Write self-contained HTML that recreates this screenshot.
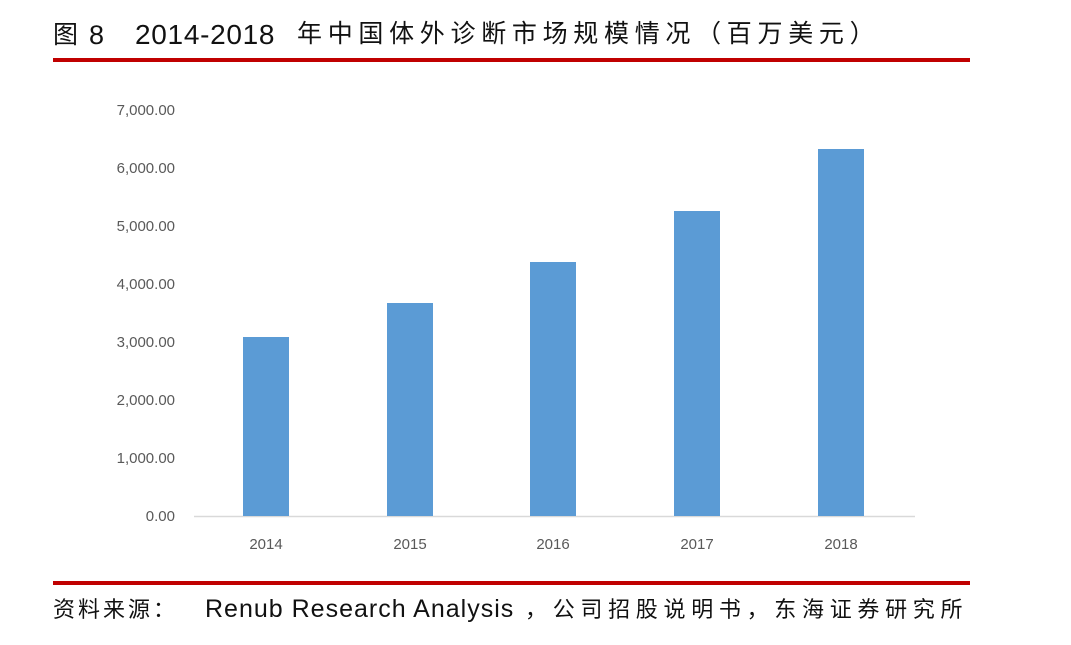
<!DOCTYPE html>
<html><head><meta charset="utf-8"><style>
body{margin:0;width:1071px;height:645px;background:#fff;position:relative;overflow:hidden;font-family:"Liberation Sans","Noto Sans CJK SC",sans-serif}
.t{position:absolute;white-space:nowrap;color:#111;line-height:1}
</style></head><body>
<div class="t" style="left:53px;top:23px;font-size:25px">图</div>
<div class="t" style="left:89px;top:22px;font-size:27px">8</div>
<div class="t" style="left:135px;top:21px;font-size:28px;letter-spacing:0.7px">2014-2018</div>
<div class="t" style="left:297px;top:22px;font-size:25px;letter-spacing:5.7px">年中国体外诊断市场规模情况（百万美元）</div>
<div style="position:absolute;left:53px;top:58px;width:917px;height:4px;background:#c00000"></div>
<svg width="1071" height="645" style="position:absolute;left:0;top:0" font-family="Liberation Sans, sans-serif">
<g fill="#595959" font-size="15" text-anchor="end">
<text x="175" y="521">0.00</text>
<text x="175" y="463">1,000.00</text>
<text x="175" y="405">2,000.00</text>
<text x="175" y="347">3,000.00</text>
<text x="175" y="289">4,000.00</text>
<text x="175" y="231">5,000.00</text>
<text x="175" y="173">6,000.00</text>
<text x="175" y="115">7,000.00</text>
</g>
<line x1="194" y1="516.5" x2="915" y2="516.5" stroke="#d9d9d9" stroke-width="1.5"/>
<g fill="#5b9bd5">
<rect x="243" y="337" width="46" height="179"/>
<rect x="387" y="303" width="46" height="213"/>
<rect x="530" y="262" width="46" height="254"/>
<rect x="674" y="211" width="46" height="305"/>
<rect x="818" y="149" width="46" height="367"/>
</g>
<g fill="#595959" font-size="15" text-anchor="middle">
<text x="266" y="549">2014</text>
<text x="410" y="549">2015</text>
<text x="553" y="549">2016</text>
<text x="697" y="549">2017</text>
<text x="841" y="549">2018</text>
</g>
</svg>
<div style="position:absolute;left:53px;top:581px;width:917px;height:4px;background:#c00000"></div>
<div class="t" style="left:53px;top:599px;font-size:22px;letter-spacing:3px">资料来源：</div>
<div class="t" style="left:205px;top:597px;font-size:25px;letter-spacing:1px">Renub Research Analysis</div>
<div class="t" style="left:525px;top:599px;font-size:22px;letter-spacing:5.7px">，公司招股说明书，东海证券研究所</div>
</body></html>
